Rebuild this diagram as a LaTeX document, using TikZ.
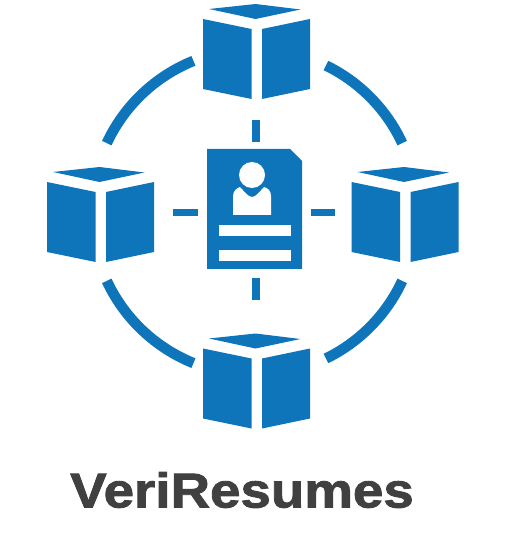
\documentclass[tikz,border=0pt]{standalone}
\usepackage{fontspec}
\setmainfont{Liberation Sans}[BoldFeatures={FakeStretch=1.12, FakeBold=1.8}]
\definecolor{logoblue}{HTML}{0F75BA}
\definecolor{logotext}{HTML}{404040}
\tikzset{
    logofill/.style={fill=logoblue},
    logohole/.style={fill=white},
    logoarc/.style={draw=logoblue, line width=0.21cm},
    boxshape/.pic={
        \fill[logofill] (-47.5, 9) -- (-1, 4) -- (44, 9.5) -- (-1, 19) -- cycle;
        \fill[logofill] (-53.5, 19) -- (-5, 29) -- (-5, 99) -- (-53.5, 89) -- cycle;
        \fill[logofill] (5.5, 29) -- (53.5, 19) -- (53.5, 89) -- (5.5, 99) -- cycle;
    }
}
\begin{document}
\begin{tikzpicture}[x=0.02cm, y=-0.02cm]
    \useasboundingbox (0, 0) rectangle (515, 553);

    \coordinate (centre) at (254.5, 212);

    % boxes
    \pic at (256.5, 0) {boxshape};
    \pic at (100.5, 163) {boxshape};
    \pic at (405, 163) {boxshape};
    \pic at (256.5, 329.5) {boxshape};

    % ring
    \foreach \from/\to in {25/64, 112/155, 205/248, 296/335} {
        \draw[logoarc] ([shift={(\from:163)}]centre) arc[start angle=\from, end angle=\to, radius=163];
    }

    % ticks
    \fill[logofill] (252, 120) rectangle (260, 142);
    \fill[logofill] (252, 278) rectangle (260, 300);
    \fill[logofill] (173, 209) rectangle (198, 216);
    \fill[logofill] (311, 209) rectangle (335, 216);

    % resume
    \fill[logofill] (207, 149) -- (290, 149) -- (302, 161) -- (302, 269) -- (207, 269) -- cycle;
    \fill[logohole] (252, 175) circle[radius=13];
    \fill[logohole] (233, 215) -- (233, 196) .. controls (233, 191) and (237, 188) .. (240, 187)
        .. controls (244, 191) and (248, 197) .. (252, 197)
        .. controls (256, 197) and (260, 191) .. (264, 187)
        .. controls (268, 188) and (271, 191) .. (271, 196) -- (271, 215) -- cycle;
    \fill[logohole] (219, 225) rectangle (291, 236);
    \fill[logohole] (219, 250) rectangle (291, 261);

    \node[text=logotext, font=\bfseries\fontsize{27.8}{30}\selectfont, inner sep=0pt] (title) at (242, 490) {VeriResumes};
\end{tikzpicture}
\end{document}
